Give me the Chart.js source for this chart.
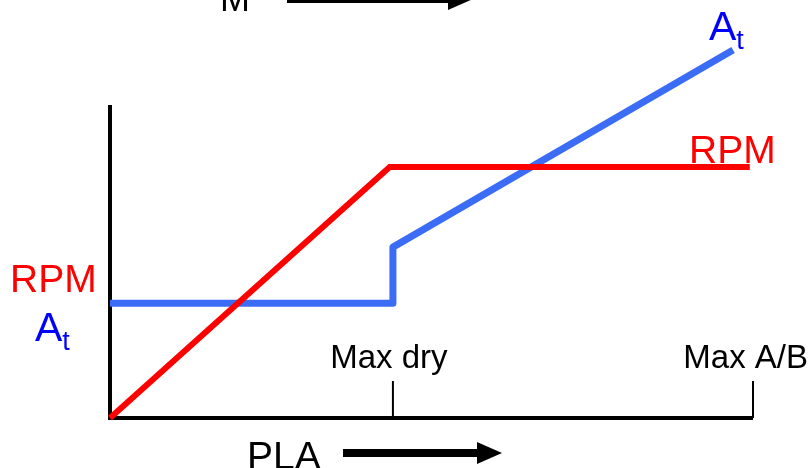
<!DOCTYPE html>
<html>
<head>
<meta charset="utf-8">
<script src="https://cdn.jsdelivr.net/npm/chart.js@4/dist/chart.umd.min.js"></script>
<style>
  html, body { margin: 0; padding: 0; background: #fff; }
  #wrap { width: 810px; height: 468px; }
</style>
</head>
<body>
<div id="wrap"><canvas id="c" width="810" height="468"></canvas></div>
<script>
// PLA on x (0 = idle, 100 = max afterburner), response on y (arbitrary units)
const rpmX = [0, 43.5, 99.5];
const rpmY = [0, 80.2, 80.2];
const atX = [0, 44, 44, 96.9];
const atY = [36.7, 36.7, 54.6, 117.6];
const tickX = [44, 100];
const tickLabels = ['Max dry', 'Max A/B'];

const FONT = "'Liberation Sans', Arial, sans-serif";
const RED = '#ff0000';
const BLUE_LINE = 'rgb(59,108,245)';
const BLUE_TEXT = '#0000ff';

function arrow(ctx, x1, x2, y, w, headLen, headHalf) {
    ctx.save();
    ctx.fillStyle = '#000';
    ctx.fillRect(x1, y - w / 2, x2 - headLen - x1 + 2, w);
    ctx.beginPath();
    ctx.moveTo(x2, y);
    ctx.lineTo(x2 - headLen, y - headHalf);
    ctx.lineTo(x2 - headLen, y + headHalf);
    ctx.closePath();
    ctx.fill();
    ctx.restore();
}

function subText(ctx, x, y, main, sub, size, subSize, color) {
    ctx.fillStyle = color;
    ctx.font = size + 'px ' + FONT;
    ctx.textAlign = 'left';
    ctx.textBaseline = 'alphabetic';
    ctx.fillText(main, x, y);
    const w = ctx.measureText(main).width;
    ctx.font = subSize + 'px ' + FONT;
    ctx.fillText(sub, x + w, y + 9);
}

const decor = {
    id: 'decor',
    beforeDatasetsDraw(chart) {
        const { ctx, chartArea: a, scales } = chart;
        ctx.save();
        ctx.strokeStyle = '#000';
        ctx.lineWidth = 4;
        ctx.beginPath();
        ctx.moveTo(a.left, a.top);
        ctx.lineTo(a.left, a.bottom);
        ctx.lineTo(scales.x.getPixelForValue(tickX[tickX.length - 1]), a.bottom);
        ctx.stroke();
        ctx.lineWidth = 2;
        tickX.forEach(v => {
            const px = scales.x.getPixelForValue(v);
            ctx.beginPath();
            ctx.moveTo(px, a.bottom - 37);
            ctx.lineTo(px, a.bottom);
            ctx.stroke();
        });
        ctx.restore();
    },
    afterDraw(chart) {
        const { ctx, scales } = chart;
        ctx.save();
        // tick labels
        ctx.fillStyle = '#000';
        ctx.font = '33px ' + FONT;
        ctx.textAlign = 'center';
        ctx.textBaseline = 'alphabetic';
        ctx.fillText(tickLabels[0], scales.x.getPixelForValue(tickX[0]) - 4, 368);
        ctx.textAlign = 'right';
        ctx.fillText(tickLabels[1], 808, 368);

        // left axis labels
        ctx.fillStyle = RED;
        ctx.font = '39px ' + FONT;
        ctx.textAlign = 'left';
        ctx.fillText('RPM', 10, 292);
        subText(ctx, 35, 341, 'A', 't', 41, 27, BLUE_TEXT);

        // line end labels
        ctx.fillStyle = RED;
        ctx.font = '39px ' + FONT;
        ctx.textAlign = 'left';
        ctx.fillText('RPM', 689, 163);
        subText(ctx, 709, 40, 'A', 't', 41, 27, BLUE_TEXT);

        // x axis title and arrows
        ctx.fillStyle = '#000';
        ctx.font = '39px ' + FONT;
        ctx.textAlign = 'left';
        ctx.fillText('PLA', 247, 469);
        arrow(ctx, 343, 502, 453, 8, 25, 11);

        ctx.fillStyle = '#000';
        ctx.font = '36px ' + FONT;
        ctx.fillText('M', 220, 11);
        arrow(ctx, 287, 473, -1, 8, 25, 11);
        ctx.restore();
    }
};

new Chart(document.getElementById('c'), {
    type: 'line',
    data: {
        datasets: [
            {
                label: 'RPM',
                data: rpmX.map((x, i) => ({ x: x, y: rpmY[i] })),
                borderColor: RED,
                borderWidth: 6,
                pointRadius: 0,
                tension: 0,
                borderJoinStyle: 'miter',
                clip: false,
            },
            {
                label: 'At',
                data: atX.map((x, i) => ({ x: x, y: atY[i] })),
                borderColor: BLUE_LINE,
                borderWidth: 7,
                pointRadius: 0,
                tension: 0,
                borderJoinStyle: 'round',
                clip: false,
            }
        ]
    },
    options: {
        responsive: false,
        animation: false,
        layout: { padding: { left: 110, right: 57, top: 105, bottom: 50 } },
        plugins: { legend: { display: false }, tooltip: { enabled: false } },
        scales: {
            x: { type: 'linear', min: 0, max: 100, display: false },
            y: { type: 'linear', min: 0, max: 100, display: false },
        },
    },
    plugins: [decor],
});
</script>
</body>
</html>
